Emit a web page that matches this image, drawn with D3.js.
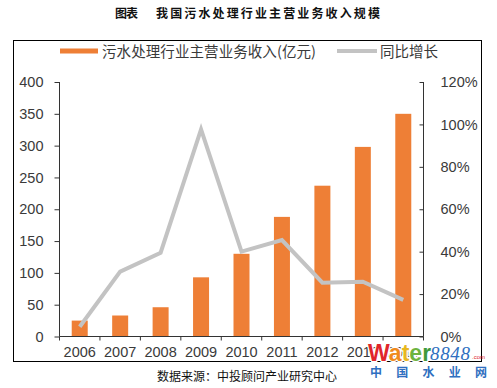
<!DOCTYPE html>
<html><head><meta charset="utf-8">
<script src="https://cdn.jsdelivr.net/npm/d3@7"></script>
<style>
html,body{margin:0;padding:0;background:#fff;}
svg{display:block;}
</style></head>
<body>
<svg id="chart" width="497" height="388"></svg>
<script>
const years = ["2006","2007","2008","2009","2010","2011","2012","2013","2014"];
const revenue = [25, 33, 46, 93, 130, 188, 237, 298, 350];
const growth = [4.6, 30.6, 39.5, 97.7, 40, 45.5, 25.4, 25.8, 17.3];
const leftTicks = [0, 50, 100, 150, 200, 250, 300, 350, 400];
const rightTicks = [0, 20, 40, 60, 80, 100, 120];
const seriesNames = ["污水处理行业主营业务收入(亿元)", "同比增长"];
const titleText = ["图表", "我国污水处理行业主营业务收入规模"];
const sourceText = "数据来源：中投顾问产业研究中心";

const svg = d3.select("#chart");
const latin = "'Liberation Sans', Arial, sans-serif";
const cjk = "'Noto Sans CJK SC', sans-serif";
const orange = "#EE7F36";
const gray = "#C3C3C3";
const axisColor = "#333";
const labelColor = "#3a3a3a";

const x0 = 59.5, x1 = 423.5, yTop = 82, yBot = 336.5;

// Title
svg.append("text").attr("x", 115).attr("y", 17.5)
  .attr("font-family", cjk).attr("font-weight", "bold").attr("font-size", 12)
  .attr("textLength", 23).attr("fill", "#111").text(titleText[0]);
svg.append("text").attr("x", 156).attr("y", 17.5)
  .attr("font-family", cjk).attr("font-weight", "bold").attr("font-size", 12)
  .attr("textLength", 224).attr("fill", "#111").text(titleText[1]);

// Frame
svg.append("rect").attr("x", 13.5).attr("y", 40.5).attr("width", 468).attr("height", 321)
  .attr("fill", "none").attr("stroke", "#000").attr("stroke-width", 1);

const xb = d3.scaleBand().domain(years).range([x0, x1]);
const yL = d3.scaleLinear().domain([0, 400]).range([yBot, yTop]);
const yR = d3.scaleLinear().domain([0, 120]).range([yBot, yTop]);

// Bars
svg.append("g").selectAll("rect").data(years).join("rect")
  .attr("x", d => xb(d) + xb.bandwidth() / 2 - 8)
  .attr("width", 16)
  .attr("y", (d, i) => yL(revenue[i]))
  .attr("height", (d, i) => yBot - yL(revenue[i]))
  .attr("fill", orange);

// Line
const line = d3.line().x((d, i) => xb(years[i]) + xb.bandwidth() / 2).y(d => yR(d));
svg.append("path").datum(growth).attr("d", line)
  .attr("fill", "none").attr("stroke", gray).attr("stroke-width", 4)
  .attr("stroke-linejoin", "miter");

// Left axis
const gL = svg.append("g").attr("transform", `translate(${x0},0)`)
  .call(d3.axisLeft(yL).tickValues(leftTicks).tickSize(5).tickPadding(11));
// Right axis
const gR = svg.append("g").attr("transform", `translate(${x1},0)`)
  .call(d3.axisRight(yR).tickValues(rightTicks).tickFormat(d => d + "%").tickSize(-4).tickPadding(17));
// Bottom axis
const gB = svg.append("g").attr("transform", `translate(0,${yBot})`)
  .call(d3.axisBottom(xb).tickSize(0).tickPadding(10));
// boundary ticks
svg.append("g").selectAll("line").data(d3.range(years.length + 1)).join("line")
  .attr("x1", i => x0 + i * xb.step()).attr("x2", i => x0 + i * xb.step())
  .attr("y1", yBot).attr("y2", yBot + 4)
  .attr("stroke", axisColor).attr("stroke-width", 1);

[gL, gR, gB].forEach(g => {
  g.select(".domain").attr("stroke", axisColor);
  g.selectAll(".tick line").attr("stroke", axisColor);
  g.selectAll("text").attr("font-family", latin).attr("font-size", 14.5).attr("fill", labelColor);
});
gR.select(".domain").attr("d", `M0,${yTop}V${yBot}`);
gL.select(".domain").attr("d", `M0,${yTop}V${yBot}`);
gB.select(".domain").attr("d", `M${x0},0H${x1}`);
gB.selectAll("text").attr("dy", "0.71em");

// Legend
svg.append("rect").attr("x", 60).attr("y", 48.5).attr("width", 38).attr("height", 5).attr("fill", orange);
svg.append("text").attr("x", 102).attr("y", 51.5).attr("dy", "0.35em")
  .attr("font-family", cjk).attr("font-size", 14.5).attr("fill", labelColor)
  .attr("textLength", 214).text(seriesNames[0]);
svg.append("line").attr("x1", 337).attr("x2", 377).attr("y1", 51).attr("y2", 51)
  .attr("stroke", gray).attr("stroke-width", 4);
svg.append("text").attr("x", 380).attr("y", 51.5).attr("dy", "0.35em")
  .attr("font-family", cjk).attr("font-size", 14.5).attr("fill", labelColor)
  .text(seriesNames[1]);

// Source
svg.append("text").attr("x", 247).attr("y", 377).attr("dy", "0.35em").attr("text-anchor", "middle")
  .attr("font-family", cjk).attr("font-size", 12).attr("fill", "#111").text(sourceText);

// Watermark (drawn over the axis labels, as in the reference)
const wm = svg.append("text").attr("x", 368).attr("y", 361)
  .attr("font-family", latin).attr("font-weight", "bold").attr("font-size", 23)
  .attr("stroke", "#fff").attr("stroke-width", 2.5).attr("paint-order", "stroke");
const wmColors = ["#E0262B", "#F08A1C", "#E8B81E", "#6DB33F", "#3E9A3C"];
"Water".split("").forEach((c, i) => wm.append("tspan").attr("fill", wmColors[i]).text(c));
svg.append("text").attr("x", 430).attr("y", 360)
  .attr("font-family", "'Liberation Serif', serif").attr("font-style", "italic").attr("font-size", 19)
  .attr("stroke", "#fff").attr("stroke-width", 2).attr("paint-order", "stroke")
  .attr("fill", "#2F6FC0").attr("textLength", 40).text("8848");
svg.append("text").attr("x", 472).attr("y", 359)
  .attr("font-family", latin).attr("font-size", 6).attr("fill", "#E0262B").text(".com");
svg.append("text").attr("x", 370).attr("y", 377)
  .attr("font-family", cjk).attr("font-weight", "bold").attr("font-size", 12)
  .attr("fill", "#2F6FC0").attr("textLength", 117).text("中国水业网");
</script>
</body></html>
